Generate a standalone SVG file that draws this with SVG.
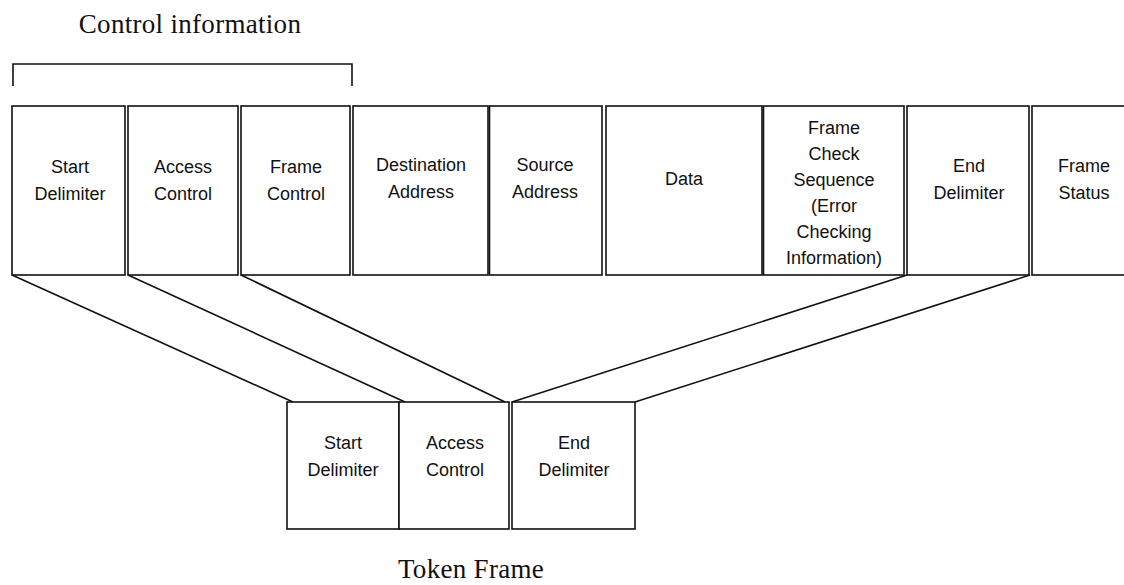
<svg xmlns="http://www.w3.org/2000/svg" width="1124" height="585" viewBox="0 0 1124 585">
<style>
.box{fill:#fff;stroke:#111;stroke-width:1.6}
.lbl{font-family:"Liberation Sans",Arial,sans-serif;font-size:18px;fill:#111;text-anchor:middle}
.ttl{font-family:"Liberation Serif","Times New Roman",serif;font-size:27px;fill:#111;text-anchor:middle;letter-spacing:0.3px}
.con{stroke:#111;stroke-width:1.6;fill:none}
</style>
<rect width="1124" height="585" fill="#fff"/>
<g id="title-control">
<text class="ttl" x="190" y="33">Control information</text>
<path class="con" d="M13,86 V64 H352 V86"/>
</g>
<g id="connectors">
<line class="con" x1="12" y1="275" x2="293" y2="402"/>
<line class="con" x1="128" y1="275" x2="405" y2="402"/>
<line class="con" x1="241" y1="275" x2="505" y2="402"/>
<line class="con" x1="907" y1="275" x2="512" y2="402"/>
<line class="con" x1="1030" y1="275" x2="635" y2="402"/>
</g>
<g id="start-delimiter">
<rect class="box" x="12" y="106" width="113" height="169"/>
<text class="lbl" x="70" y="173">Start</text>
<text class="lbl" x="70" y="200">Delimiter</text>
</g>
<g id="access-control">
<rect class="box" x="128" y="106" width="110" height="169"/>
<text class="lbl" x="183" y="173">Access</text>
<text class="lbl" x="183" y="200">Control</text>
</g>
<g id="frame-control">
<rect class="box" x="241" y="106" width="109" height="169"/>
<text class="lbl" x="296" y="173">Frame</text>
<text class="lbl" x="296" y="200">Control</text>
</g>
<g id="destination-address">
<rect class="box" x="353" y="106" width="135" height="169"/>
<text class="lbl" x="421" y="171">Destination</text>
<text class="lbl" x="421" y="198">Address</text>
</g>
<g id="source-address">
<rect class="box" x="489.5" y="106" width="112.5" height="169"/>
<text class="lbl" x="545" y="171">Source</text>
<text class="lbl" x="545" y="198">Address</text>
</g>
<g id="data">
<rect class="box" x="606" y="106" width="156" height="169"/>
<text class="lbl" x="684" y="185">Data</text>
</g>
<g id="frame-check-sequence">
<rect class="box" x="763.5" y="106" width="140.5" height="169"/>
<text class="lbl" x="834" y="134">Frame</text>
<text class="lbl" x="834" y="160">Check</text>
<text class="lbl" x="834" y="186">Sequence</text>
<text class="lbl" x="834" y="212">(Error</text>
<text class="lbl" x="834" y="238">Checking</text>
<text class="lbl" x="834" y="264">Information)</text>
</g>
<g id="end-delimiter">
<rect class="box" x="907" y="106" width="122" height="169"/>
<text class="lbl" x="969" y="172">End</text>
<text class="lbl" x="969" y="199">Delimiter</text>
</g>
<g id="frame-status">
<rect class="box" x="1032" y="106" width="110" height="169"/>
<text class="lbl" x="1084" y="172">Frame</text>
<text class="lbl" x="1084" y="199">Status</text>
</g>
<g id="token-start-delimiter">
<rect class="box" x="287" y="402" width="112" height="127"/>
<text class="lbl" x="343" y="449">Start</text>
<text class="lbl" x="343" y="476">Delimiter</text>
</g>
<g id="token-access-control">
<rect class="box" x="399" y="402" width="110" height="127"/>
<text class="lbl" x="455" y="449">Access</text>
<text class="lbl" x="455" y="476">Control</text>
</g>
<g id="token-end-delimiter">
<rect class="box" x="512" y="402" width="123" height="127"/>
<text class="lbl" x="574" y="449">End</text>
<text class="lbl" x="574" y="476">Delimiter</text>
</g>
<g id="title-token">
<text class="ttl" x="471" y="578">Token Frame</text>
</g>
</svg>
